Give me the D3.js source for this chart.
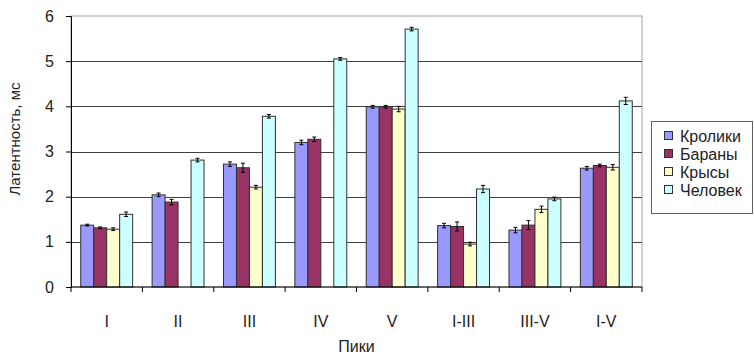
<!DOCTYPE html>
<html>
<head>
<meta charset="utf-8">
<script src="https://cdn.jsdelivr.net/npm/d3@7"></script>
<style>
body { margin: 0; background: #fff; }
svg { font-family: Arial, "Liberation Sans", sans-serif; }
</style>
</head>
<body>
<svg></svg>
<script>
var categories = ["I", "II", "III", "IV", "V", "I-III", "III-V", "I-V"];
var seriesNames = ["Кролики", "Бараны", "Крысы", "Человек"];
var seriesColors = ["#9999ff", "#993366", "#ffffcc", "#ccffff"];

var rabbits = [1.37, 2.04, 2.72, 3.20, 3.99, 1.36, 1.26, 2.63];
var sheep   = [1.31, 1.88, 2.64, 3.27, 3.99, 1.34, 1.37, 2.69];
var rats    = [1.28, null, 2.21, null, 3.94, 0.95, 1.72, 2.65];
var human   = [1.61, 2.81, 3.78, 5.05, 5.71, 2.17, 1.95, 4.12];

var rabbitsErr = [0.02, 0.04, 0.05, 0.05, 0.03, 0.05, 0.06, 0.04];
var sheepErr   = [0.02, 0.06, 0.10, 0.05, 0.03, 0.10, 0.10, 0.03];
var ratsErr    = [0.03, null, 0.04, null, 0.06, 0.04, 0.07, 0.06];
var humanErr   = [0.05, 0.04, 0.04, 0.03, 0.04, 0.08, 0.04, 0.08];

var yTicks = [0, 1, 2, 3, 4, 5, 6];

var screen = {width: 754, height: 356};
var margins = {top: 16, right: 112, bottom: 69, left: 71};

var width = screen.width - margins.left - margins.right;
var height = screen.height - margins.top - margins.bottom;

var values = [rabbits, sheep, rats, human];
var errors = [rabbitsErr, sheepErr, ratsErr, humanErr];

var svg = d3.select("svg")
    .attr("width", screen.width)
    .attr("height", screen.height);

var gap = 1.5 / 5.5;
var xScale = d3.scaleBand().domain(categories).range([0, width])
    .paddingInner(gap).paddingOuter(gap / 2);
var x1 = d3.scaleBand().domain(seriesNames).range([0, xScale.bandwidth()]);
var yScale = d3.scaleLinear().domain([0, 6]).range([height, 0]);

var graph = svg.append("g")
    .attr("id", "graph")
    .attr("transform", "translate(" + margins.left + "," + margins.top + ")");

// plot border
graph.append("rect")
    .attr("x", 0).attr("y", 0)
    .attr("width", width).attr("height", height)
    .attr("fill", "none")
    .attr("stroke", "#a0a0a0");

// gridlines
graph.append("g").selectAll("line")
    .data(yTicks.filter(function(d) { return d > 0 && d < 6; }))
    .enter().append("line")
    .attr("x1", 0).attr("x2", width)
    .attr("y1", function(d) { return Math.round(yScale(d)) + 0.5; })
    .attr("y2", function(d) { return Math.round(yScale(d)) + 0.5; })
    .attr("stroke", "#404040");

// bars
var rows = [];
seriesNames.forEach(function(s, si) {
    categories.forEach(function(c, ci) {
        if (values[si][ci] != null) {
            rows.push({cat: c, series: s, si: si, v: values[si][ci], e: errors[si][ci]});
        }
    });
});

graph.append("g").selectAll("rect")
    .data(rows)
    .enter().append("rect")
    .attr("x", function(d) { return xScale(d.cat) + x1(d.series); })
    .attr("y", function(d) { return yScale(d.v); })
    .attr("width", x1.bandwidth())
    .attr("height", function(d) { return height - yScale(d.v); })
    .attr("fill", function(d) { return seriesColors[d.si]; })
    .attr("stroke", "#303030")
    .attr("stroke-width", 1);

// error bars
var eb = graph.append("g").selectAll("g")
    .data(rows)
    .enter().append("g")
    .attr("stroke", "#000")
    .attr("stroke-width", 1);

eb.append("line")
    .attr("x1", function(d) { return xScale(d.cat) + x1(d.series) + x1.bandwidth() / 2; })
    .attr("x2", function(d) { return xScale(d.cat) + x1(d.series) + x1.bandwidth() / 2; })
    .attr("y1", function(d) { return yScale(d.v + d.e); })
    .attr("y2", function(d) { return yScale(d.v - d.e); });

[1, -1].forEach(function(sign) {
    eb.append("line")
        .attr("x1", function(d) { return xScale(d.cat) + x1(d.series) + x1.bandwidth() / 2 - 2; })
        .attr("x2", function(d) { return xScale(d.cat) + x1(d.series) + x1.bandwidth() / 2 + 2; })
        .attr("y1", function(d) { return yScale(d.v + sign * d.e); })
        .attr("y2", function(d) { return yScale(d.v + sign * d.e); });
});

// axes
var yAxis = d3.axisLeft(yScale).tickValues(yTicks).tickFormat(d3.format("d"))
    .tickSize(5).tickPadding(12);
graph.append("g")
    .attr("id", "yAxis")
    .call(yAxis)
    .call(function(g) {
        g.selectAll("path, line").attr("stroke", "#000");
        g.selectAll("text").attr("font-size", 16).attr("fill", "#222")
            .attr("font-family", "Arial, 'Liberation Sans', sans-serif");
    });

var step = xScale.step();
var xAxis = graph.append("g")
    .attr("id", "xAxis")
    .attr("transform", "translate(0," + height + ")");

xAxis.append("line")
    .attr("x1", 0).attr("x2", width)
    .attr("stroke", "#000");

xAxis.selectAll(".tk")
    .data(d3.range(categories.length + 1))
    .enter().append("line")
    .attr("class", "tk")
    .attr("x1", function(i) { return i * step; })
    .attr("x2", function(i) { return i * step; })
    .attr("y1", 0).attr("y2", 5)
    .attr("stroke", "#000");

xAxis.selectAll("text")
    .data(categories)
    .enter().append("text")
    .attr("x", function(d) { return xScale(d) + xScale.bandwidth() / 2; })
    .attr("y", 40)
    .attr("text-anchor", "middle")
    .attr("font-size", 16)
    .attr("fill", "#222")
    .text(function(d) { return d; });

// titles
svg.append("text")
    .attr("x", margins.left + width / 2)
    .attr("y", 352)
    .attr("text-anchor", "middle")
    .attr("font-size", 16)
    .attr("fill", "#222")
    .text("Пики");

svg.append("text")
    .attr("transform", "translate(20,139) rotate(-90)")
    .attr("text-anchor", "middle")
    .attr("font-size", 15)
    .attr("fill", "#222")
    .text("Латентность, мс");

// legend
var legend = svg.append("g").attr("transform", "translate(651,121)");
legend.append("rect")
    .attr("x", 0.5).attr("y", 0.5)
    .attr("width", 101).attr("height", 92)
    .attr("fill", "#fff")
    .attr("stroke", "#606060");

var li = legend.selectAll(".li")
    .data(seriesNames)
    .enter().append("g")
    .attr("class", "li")
    .attr("transform", function(d, i) { return "translate(0," + (15 + i * 18) + ")"; });

li.append("rect")
    .attr("x", 13.5).attr("y", -4.5)
    .attr("width", 8).attr("height", 8)
    .attr("fill", function(d, i) { return seriesColors[i]; })
    .attr("stroke", "#303030");

li.append("text")
    .attr("x", 29).attr("y", 6)
    .attr("font-size", 16)
    .attr("fill", "#222")
    .text(function(d) { return d; });
</script>
</body>
</html>
